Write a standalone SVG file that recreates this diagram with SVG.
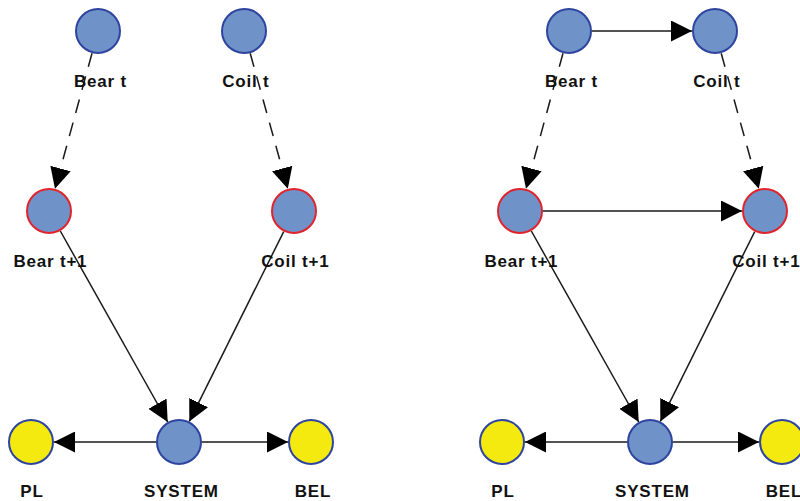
<svg xmlns="http://www.w3.org/2000/svg" width="800" height="501" viewBox="0 0 800 501">
<style>
.n{fill:#6f93c9;stroke:#2e449f;stroke-width:2}
.r{stroke:#e0242c}
.y{fill:#f4ea10}
.e{stroke:#1a1a1a;stroke-width:1.5;fill:none;marker-end:url(#ah)}
.d{stroke-dasharray:14 10}
text{font-family:"Liberation Sans",Arial,sans-serif;font-weight:bold;font-size:17px;letter-spacing:0.8px;text-anchor:middle;fill:#111}
</style>
<defs>
<marker id="ah" markerUnits="userSpaceOnUse" markerWidth="21" markerHeight="21" refX="21" refY="10.5" orient="auto" viewBox="0 0 21 21">
<path d="M0,0 L21,10.5 L0,21 z" fill="#000"/>
</marker>
</defs>
<rect width="800" height="501" fill="#fff"/>
<g id="connectors">
<line class="e d" x1="92" y1="53.2" x2="55" y2="188.8"/>
<line class="e d" x1="250.2" y1="53.2" x2="287.8" y2="188.8"/>
<line class="e" x1="60.3" y1="231" x2="167.7" y2="422"/>
<line class="e" x1="283.7" y1="231.6" x2="189.3" y2="421.4"/>
<line class="e" x1="156" y1="442" x2="54" y2="442"/>
<line class="e" x1="202" y1="442" x2="288" y2="442"/>
<line class="e" x1="592" y1="31" x2="692" y2="31"/>
<line class="e" x1="543" y1="211" x2="742" y2="211"/>
<line class="e d" x1="563" y1="53.2" x2="526" y2="188.8"/>
<line class="e d" x1="721.2" y1="53.2" x2="758.8" y2="188.8"/>
<line class="e" x1="531.3" y1="231" x2="638.7" y2="422"/>
<line class="e" x1="754.7" y1="231.6" x2="660.3" y2="421.4"/>
<line class="e" x1="627" y1="442" x2="525" y2="442"/>
<line class="e" x1="673" y1="442" x2="759" y2="442"/>
</g>
<g id="L_bear_t"><circle class="n" cx="98" cy="31" r="22"/><text x="100.4" y="86.5">Bear t</text></g>
<g id="L_coil_t"><circle class="n" cx="244" cy="31" r="22"/><text x="245.9" y="86.5">Coil t</text></g>
<g id="L_bear_t1"><circle class="n r" cx="49" cy="211" r="22"/><text x="50.4" y="267">Bear t+1</text></g>
<g id="L_coil_t1"><circle class="n r" cx="294" cy="211" r="22"/><text x="295.4" y="267">Coil t+1</text></g>
<g id="L_pl"><circle class="n y" cx="31" cy="442" r="22"/><text x="32" y="497">PL</text></g>
<g id="L_system"><circle class="n" cx="179" cy="442" r="22"/><text x="181.4" y="497">SYSTEM</text></g>
<g id="L_bel"><circle class="n y" cx="311" cy="442" r="22"/><text x="312.9" y="497">BEL</text></g>
<g id="R_bear_t"><circle class="n" cx="569" cy="31" r="22"/><text x="571.4" y="86.5">Bear t</text></g>
<g id="R_coil_t"><circle class="n" cx="715" cy="31" r="22"/><text x="716.9" y="86.5">Coil t</text></g>
<g id="R_bear_t1"><circle class="n r" cx="520" cy="211" r="22"/><text x="521.4" y="267">Bear t+1</text></g>
<g id="R_coil_t1"><circle class="n r" cx="765" cy="211" r="22"/><text x="766.4" y="267">Coil t+1</text></g>
<g id="R_pl"><circle class="n y" cx="502" cy="442" r="22"/><text x="503" y="497">PL</text></g>
<g id="R_system"><circle class="n" cx="650" cy="442" r="22"/><text x="652.4" y="497">SYSTEM</text></g>
<g id="R_bel"><circle class="n y" cx="782" cy="442" r="22"/><text x="783.9" y="497">BEL</text></g>
</svg>
